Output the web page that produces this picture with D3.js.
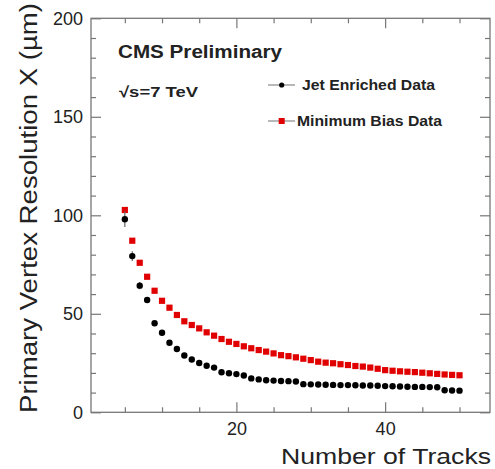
<!DOCTYPE html>
<html>
<head>
<meta charset="utf-8">
<script src="https://cdn.jsdelivr.net/npm/d3@7"></script>
<style>
  html, body { margin: 0; padding: 0; background: #fff; }
  svg { display: block; font-family: "Liberation Sans", Arial, Helvetica, sans-serif; }
</style>
</head>
<body>
<svg id="chart" width="495" height="469"></svg>
<script>
// Number of tracks in the vertex fit
const nTracks = d3.range(5, 51);

// Primary vertex resolution in X (µm), jet-enriched sample
const jetValues = [
  98.0, 79.3, 64.3, 57.0, 45.2, 40.4, 35.3, 32.1, 28.8, 26.8,
  25.0, 23.6, 22.7, 20.3, 19.8, 19.4, 18.7, 17.2, 16.7, 16.3,
  16.1, 15.9, 15.8, 15.6, 14.3, 14.2, 14.1, 14.0, 13.9, 13.8,
  13.8, 13.7, 13.6, 13.6, 13.5, 13.3, 13.2, 13.1, 13.0, 12.9,
  12.9, 12.8, 12.7, 11.2, 11.1, 11.0
];
const jetErrors = [
  4.0, 2.5, 1.8, 1.2, 0.9, 0.7, 0.6, 0.5, 0.4, 0.4,
  0.3, 0.3, 0.3, 0.3, 0.3, 0.3, 0.3, 0.3, 0.3, 0.3,
  0.3, 0.3, 0.3, 0.3, 0.3, 0.3, 0.3, 0.3, 0.3, 0.3,
  0.3, 0.3, 0.3, 0.3, 0.3, 0.3, 0.3, 0.3, 0.3, 0.3,
  0.3, 0.3, 0.3, 0.3, 0.3, 0.3
];

// Primary vertex resolution in X (µm), minimum-bias sample
const mbValues = [
  102.7, 87.1, 75.9, 68.8, 61.7, 56.6, 53.1, 49.4, 46.2, 44.3,
  42.6, 40.6, 38.9, 37.2, 35.8, 34.7, 33.5, 32.5, 31.6, 30.8,
  29.9, 29.0, 28.5, 27.9, 27.2, 26.5, 25.7, 25.2, 24.9, 24.4,
  24.0, 23.5, 23.2, 22.7, 22.1, 21.4, 21.1, 20.8, 20.6, 20.4,
  20.1, 19.8, 19.5, 19.2, 19.0, 18.8
];

const xMajorTicks = [20, 40];
const xMinorTicks = [5, 10, 15, 25, 30, 35, 45, 50];
const yMajorTicks = [0, 50, 100, 150, 200];
const yMinorTicks = [10, 20, 30, 40, 60, 70, 80, 90, 110, 120, 130, 140, 160, 170, 180, 190];

const legendLabels = ["Jet Enriched Data", "Minimum Bias Data"];

const svg = d3.select("#chart");
const frame = { left: 91, right: 490, top: 18.3, bottom: 412.3 };

const x = d3.scaleLinear().domain([0.45, 54.1]).range([frame.left, frame.right]);
const y = d3.scaleLinear().domain([0, 200]).range([frame.bottom, frame.top]);

const axisColor = "#777";
const textColor = "#222";

// Frame
svg.append("rect")
  .attr("x", frame.left).attr("y", frame.top)
  .attr("width", frame.right - frame.left)
  .attr("height", frame.bottom - frame.top)
  .attr("fill", "none").attr("stroke", axisColor).attr("stroke-width", 1.3);

function styleAxis(g) {
  g.select(".domain").remove();
  g.selectAll(".tick line").attr("stroke", axisColor).attr("stroke-width", 1.2);
  g.selectAll(".tick text")
    .attr("fill", textColor)
    .style("font-size", "18px");
}

// Bottom axis with labels
svg.append("g").attr("transform", `translate(0,${frame.bottom})`)
  .call(d3.axisBottom(x).tickValues(xMajorTicks).tickSize(-10).tickPadding(10).tickFormat(d3.format("d")))
  .call(styleAxis);
svg.append("g").attr("transform", `translate(0,${frame.bottom})`)
  .call(d3.axisBottom(x).tickValues(xMinorTicks).tickSize(-5).tickFormat(""))
  .call(styleAxis);
// Top axis (mirrored ticks)
svg.append("g").attr("transform", `translate(0,${frame.top})`)
  .call(d3.axisTop(x).tickValues(xMajorTicks).tickSize(-10).tickFormat(""))
  .call(styleAxis);
svg.append("g").attr("transform", `translate(0,${frame.top})`)
  .call(d3.axisTop(x).tickValues(xMinorTicks).tickSize(-5).tickFormat(""))
  .call(styleAxis);

// Left axis with labels
svg.append("g").attr("transform", `translate(${frame.left},0)`)
  .call(d3.axisLeft(y).tickValues(yMajorTicks).tickSize(-10).tickPadding(8).tickFormat(d3.format("d")))
  .call(styleAxis);
svg.append("g").attr("transform", `translate(${frame.left},0)`)
  .call(d3.axisLeft(y).tickValues(yMinorTicks).tickSize(-5).tickFormat(""))
  .call(styleAxis);
// Right axis (mirrored ticks)
svg.append("g").attr("transform", `translate(${frame.right},0)`)
  .call(d3.axisRight(y).tickValues(yMajorTicks).tickSize(-10).tickFormat(""))
  .call(styleAxis);
svg.append("g").attr("transform", `translate(${frame.right},0)`)
  .call(d3.axisRight(y).tickValues(yMinorTicks).tickSize(-5).tickFormat(""))
  .call(styleAxis);

// Axis titles
svg.append("text")
  .attr("x", 491).attr("y", 464)
  .attr("text-anchor", "end")
  .attr("fill", textColor)
  .style("font-size", "22px")
  .attr("textLength", 210).attr("lengthAdjust", "spacingAndGlyphs")
  .text("Number of Tracks");

svg.append("text")
  .attr("transform", "translate(37,3) rotate(-90)")
  .attr("text-anchor", "end")
  .attr("fill", textColor)
  .style("font-size", "23px")
  .attr("textLength", 410).attr("lengthAdjust", "spacingAndGlyphs")
  .text("Primary Vertex Resolution X (µm)");

// Data: minimum bias (red squares)
const mbData = nTracks.map((n, i) => ({ n, v: mbValues[i] }));
const jetData = nTracks.map((n, i) => ({ n, v: jetValues[i], e: jetErrors[i] }));

const sq = 6.2;
svg.append("g").selectAll("rect")
  .data(mbData).join("rect")
  .attr("x", d => x(d.n) - sq / 2)
  .attr("y", d => y(d.v) - sq / 2)
  .attr("width", sq).attr("height", sq)
  .attr("fill", "#e00000");

// Data: jet enriched (black circles with error bars)
svg.append("g").selectAll("line")
  .data(jetData).join("line")
  .attr("x1", d => x(d.n)).attr("x2", d => x(d.n))
  .attr("y1", d => y(d.v - d.e)).attr("y2", d => y(d.v + d.e))
  .attr("stroke", "#666").attr("stroke-width", 1.2);
svg.append("g").selectAll("circle")
  .data(jetData).join("circle")
  .attr("cx", d => x(d.n)).attr("cy", d => y(d.v))
  .attr("r", 3.2)
  .attr("fill", "#000");

// Annotations
svg.append("text")
  .attr("x", 118).attr("y", 57.7)
  .attr("fill", textColor)
  .style("font-size", "18px").style("font-weight", "bold")
  .attr("textLength", 164).attr("lengthAdjust", "spacingAndGlyphs")
  .text("CMS Preliminary");

svg.append("text")
  .attr("x", 119).attr("y", 97)
  .attr("fill", textColor)
  .style("font-size", "15px").style("font-weight", "bold")
  .attr("textLength", 79).attr("lengthAdjust", "spacingAndGlyphs")
  .text("\u221As=7 TeV");

// Legend
const legend = svg.append("g");
const legendRows = [
  { label: legendLabels[0], cy: 85, base: 89.5, tx: 302, tl: 133, kind: "circle" },
  { label: legendLabels[1], cy: 121, base: 126, tx: 297, tl: 145, kind: "square" }
];
legendRows.forEach(r => {
  legend.append("line")
    .attr("x1", 268).attr("x2", 295).attr("y1", r.cy).attr("y2", r.cy)
    .attr("stroke", "#888").attr("stroke-width", 1.2);
  if (r.kind === "circle") {
    legend.append("circle").attr("cx", 281.7).attr("cy", r.cy).attr("r", 2.6).attr("fill", "#000");
  } else {
    legend.append("rect").attr("x", 281.7 - 3).attr("y", r.cy - 3).attr("width", 6).attr("height", 6).attr("fill", "#e00000");
  }
  legend.append("text")
    .attr("x", r.tx).attr("y", r.base)
    .attr("fill", textColor)
    .style("font-size", "14px").style("font-weight", "bold")
    .attr("textLength", r.tl).attr("lengthAdjust", "spacingAndGlyphs")
    .text(r.label);
});
</script>
</body>
</html>
